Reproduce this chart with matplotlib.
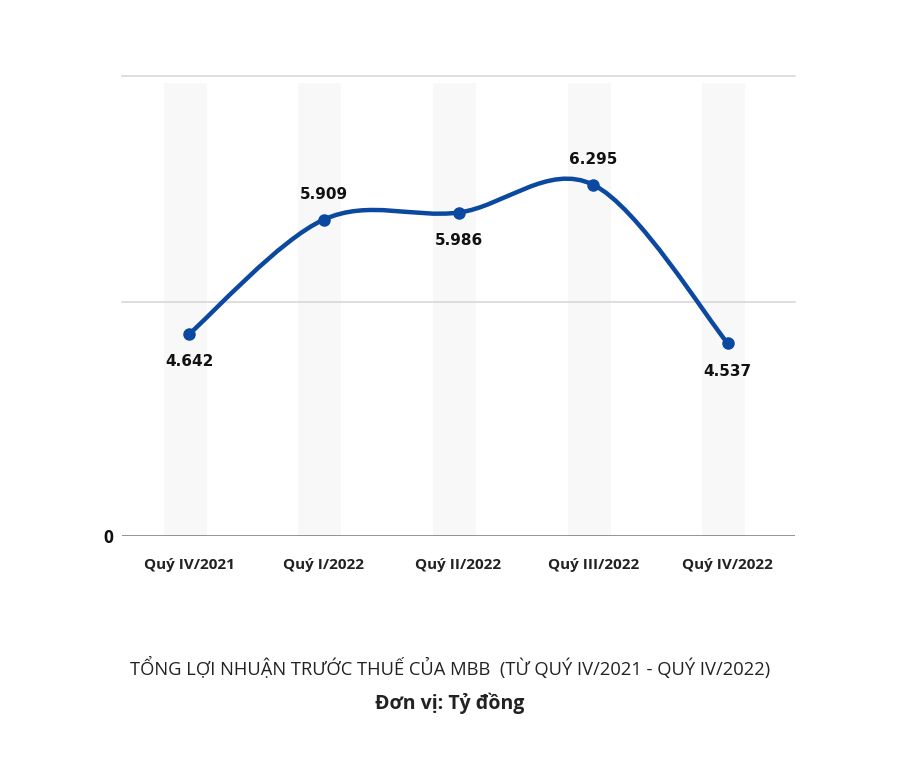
import numpy as np
import matplotlib
matplotlib.use("Agg")
import matplotlib.pyplot as plt
from matplotlib.path import Path
from matplotlib.patches import PathPatch

# data
quarters = ["Quý IV/2021", "Quý I/2022", "Quý II/2022", "Quý III/2022", "Quý IV/2022"]
profit = [4.642, 5.909, 5.986, 6.295, 4.537]
value_labels = ["4.642", "5.909", "5.986", "6.295", "4.537"]
label_above = [False, True, False, True, False]

# the chart's value axis does not start at zero, but its baseline is labelled "0"
y_base = 2.4
y_top = 7.5
grid_values = [y_base, 5.0, y_top]
grid_labels = ["0", "", ""]

line_color = "#0b48a0"

plt.rcParams['font.family'] = ['Open Sans', 'DejaVu Sans']

fig = plt.figure(figsize=(9, 7.6), dpi=100)
ax = fig.add_axes([0.1356, 0.2947, 0.7478, 0.6053])

x = np.arange(len(quarters))

# light background columns
ax.bar(x - 0.03, 7.42 - y_base, bottom=y_base, width=0.32, color="#f8f8f8", zorder=0)

# gridlines
for g in grid_values[1:]:
    ax.axhline(g, color="#d4d4d4", lw=1.1, zorder=1, clip_on=False)
ax.axhline(y_base, color="#8a8a8a", lw=1.3, zorder=1)

# smooth curve (Catmull-Rom through the points, drawn as cubic beziers)
pts = list(zip(x, profit))
verts = [pts[0]]
codes = [Path.MOVETO]
for i in range(len(pts) - 1):
    p0 = pts[i - 1] if i > 0 else pts[i]
    p1 = pts[i]
    p2 = pts[i + 1]
    p3 = pts[i + 2] if i + 2 < len(pts) else pts[i + 1]
    c1 = (p1[0] + (p2[0] - p0[0]) / 6, p1[1] + (p2[1] - p0[1]) / 6)
    c2 = (p2[0] - (p3[0] - p1[0]) / 6, p2[1] - (p3[1] - p1[1]) / 6)
    verts += [c1, c2, p2]
    codes += [Path.CURVE4] * 3
ax.add_patch(PathPatch(Path(verts, codes), fill=False, edgecolor=line_color,
                       lw=3.2, capstyle="round", zorder=3))
ax.plot(x, profit, "o", color=line_color, ms=8, zorder=4)

# value labels
for xi, v, lab, up in zip(x, profit, value_labels, label_above):
    off = 18 if up else -20
    ax.annotate(lab, (xi, v), xytext=(0, off), textcoords="offset points",
                ha="center", va="center", fontsize=11, fontweight="bold",
                family="DejaVu Sans", color="#111111", zorder=5)

ax.set_xlim(-0.5, 4.5)
ax.set_ylim(y_base, y_top)
ax.set_xticks(x)
ax.set_xticklabels(quarters, fontsize=11, fontweight="bold", color="#222222")
ax.set_yticks(grid_values)
ax.set_yticklabels(grid_labels, fontsize=12.5, fontweight="bold", color="#111111")
ax.tick_params(axis="x", length=0, pad=16)
ax.tick_params(axis="y", length=0, pad=6)
for s in ax.spines.values():
    s.set_visible(False)

fig.text(0.5, 1 - 668 / 760, "TỔNG LỢI NHUẬN TRƯỚC THUẾ CỦA MBB  (TỪ QUÝ IV/2021 - QUÝ IV/2022)",
         ha="center", va="center", fontsize=13.2, color="#222222")
fig.text(0.5, 1 - 703 / 760, "Đơn vị: Tỷ đồng", ha="center", va="center",
         fontsize=14, fontweight="bold", color="#222222")

fig.savefig("out.png", dpi=100, facecolor="white")
